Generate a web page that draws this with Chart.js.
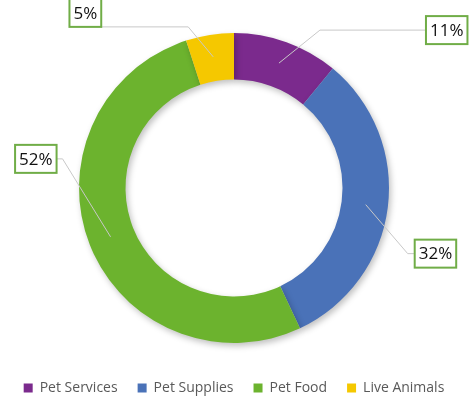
<!DOCTYPE html>
<html>
<head>
<meta charset="utf-8">
<style>
  html, body { margin: 0; padding: 0; background: #fff; }
  #wrap { width: 474px; height: 397px; }
</style>
<script src="https://cdn.jsdelivr.net/npm/chart.js@4.4.1/dist/chart.umd.min.js"></script>
</head>
<body>
<div id="wrap"><canvas id="chart" width="474" height="397"></canvas></div>
<script>
// Chart data
const categories = ['Pet Services', 'Pet Supplies', 'Pet Food', 'Live Animals'];
const shares = [11, 32, 52, 5];
const sliceColors = ['#7b2a8d', '#4a72b8', '#6cb32e', '#f5c800'];

// Leader line layout per slice: elbow offset from slice anchor, then box edge offset from elbow
const leaderElbow = [[41, -33], [42, 49], [-48, -78], [-25, -30]];
const leaderBox = [[106, 0], [7, 0], [-6, 0], [-87, -14]];

// Draws the percentage callouts with boxes and leader lines
const calloutPlugin = {
    id: 'callouts',
    afterDatasetsDraw(chart) {
        const ctx = chart.ctx;
        const meta = chart.getDatasetMeta(0);
        ctx.save();
        ctx.font = '17px "Open Sans", sans-serif';
        meta.data.forEach((arc, i) => {
            const mid = (arc.startAngle + arc.endAngle) / 2;
            const r = (arc.innerRadius + arc.outerRadius) / 2 + 1;
            const ax = arc.x + Math.cos(mid) * r;
            const ay = arc.y + Math.sin(mid) * r;
            const ex = ax + leaderElbow[i][0];
            const ey = ay + leaderElbow[i][1];
            const bx = ex + leaderBox[i][0]; // box edge x
            const right = leaderBox[i][0] > 0;
            // leader line
            ctx.strokeStyle = '#c8c8c8';
            ctx.lineWidth = 1;
            ctx.beginPath();
            ctx.moveTo(ax, ay);
            ctx.lineTo(ex, ey);
            ctx.lineTo(bx, ey);
            ctx.stroke();
            // box
            const text = shares[i] + '%';
            const w = ctx.measureText(text).width + 8;
            const h = 28;
            const cy = ey + leaderBox[i][1];
            const left = right ? bx : bx - w;
            ctx.fillStyle = '#fff';
            ctx.fillRect(left, cy - h / 2, w, h);
            ctx.strokeStyle = '#70ad47';
            ctx.lineWidth = 2;
            ctx.strokeRect(left, cy - h / 2, w, h);
            ctx.fillStyle = '#111';
            ctx.textAlign = 'center';
            ctx.textBaseline = 'middle';
            ctx.fillText(text, left + w / 2, cy + 1);
        });
        ctx.restore();
    }
};

// Soft shadow under the ring
const shadowPlugin = {
    id: 'ringShadow',
    beforeDatasetsDraw(chart) {
        const ctx = chart.ctx;
        ctx.save();
        ctx.shadowColor = 'rgba(0,0,0,0.25)';
        ctx.shadowBlur = 6;
        ctx.shadowOffsetX = 2;
        ctx.shadowOffsetY = 3;
    },
    afterDatasetsDraw(chart) {
        chart.ctx.restore();
    }
};

const ctx = document.getElementById('chart').getContext('2d');
new Chart(ctx, {
    type: 'doughnut',
    data: {
        labels: categories,
        datasets: [{
            data: shares,
            backgroundColor: sliceColors,
            borderWidth: 0
        }]
    },
    options: {
        responsive: false,
        animation: false,
        radius: 155,
        cutout: '70%',
        layout: {
            padding: { top: 15, bottom: -8, left: 0, right: 6 }
        },
        plugins: {
            legend: {
                position: 'bottom',
                labels: {
                    boxWidth: 9,
                    boxHeight: 9,
                    padding: 20,
                    color: '#595959',
                    font: { family: '"Open Sans", sans-serif', size: 14 }
                }
            },
            tooltip: { enabled: false }
        }
    },
    plugins: [shadowPlugin, calloutPlugin]
});
</script>
</body>
</html>
